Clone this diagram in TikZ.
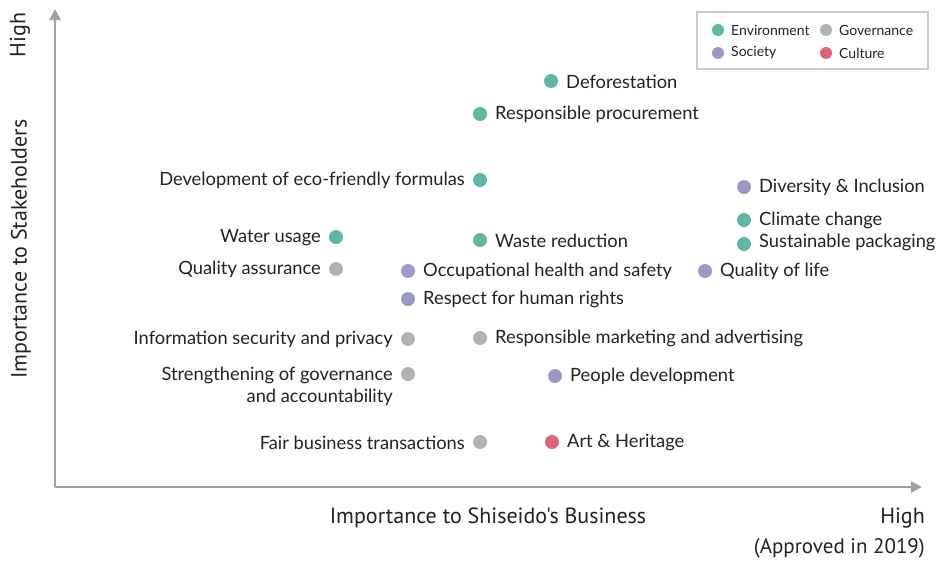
\documentclass[tikz,border=0pt]{standalone}
\usepackage{fontspec}
\setmainfont{Lato}
\newfontfamily\axisfont{PT Sans}
\usetikzlibrary{arrows.meta}
\definecolor{envc}{HTML}{5FB8A5}
\definecolor{socc}{HTML}{9A9AC8}
\definecolor{govc}{HTML}{B3B3B3}
\definecolor{culc}{HTML}{E06478}
\definecolor{axisc}{HTML}{A0A0A0}
\definecolor{txtc}{HTML}{222222}
\begin{document}
\begin{tikzpicture}[x=1pt,y=-1pt,
  dotE/.style={circle,fill=envc,inner sep=0,minimum size=14},
  dotS/.style={circle,fill=socc,inner sep=0,minimum size=14},
  dotG/.style={circle,fill=govc,inner sep=0,minimum size=14},
  dotC/.style={circle,fill=culc,inner sep=0,minimum size=14},
  lblR/.style={anchor=west,inner sep=0,yshift=-0.5pt,text=txtc,font=\fontsize{18.3}{22}\selectfont},
  lblL/.style={anchor=east,inner sep=0,yshift=-0.5pt,text=txtc,font=\fontsize{18.3}{22}\selectfont},
  legdot/.style={circle,inner sep=0,minimum size=12},
  legtxt/.style={anchor=west,inner sep=0,text=txtc,font=\fontsize{14}{16}\selectfont},
  axlbl/.style={inner sep=0,text=txtc,font=\axisfont\fontsize{22}{26}\selectfont},
  axisline/.style={draw=axisc,line width=2.6,-{Triangle[length=11,width=11]}}]
\useasboundingbox (0,0) rectangle (941,560);
% axes
\coordinate (O) at (55,487);
\coordinate (Ytop) at (55,9);
\coordinate (Xend) at (922,487);
\draw[axisline] (O) -- (Ytop);
\draw[axisline] (O) -- (Xend);
% axis labels
\node[axlbl,rotate=90] (yhigh) at (20,35) {High};
\node[axlbl,rotate=90] (ytitle) at (21,249) {Importance to Stakeholders};
\node[axlbl] (xtitle) at (488,518) {Importance to Shiseido's Business};
\node[axlbl,anchor=east] (xhigh) at (925,518) {High};
\node[axlbl,anchor=east,font=\axisfont\fontsize{21}{25}\selectfont] (xappr) at (925,548) {(Approved in 2019)};
% legend
\node[draw=govc!70,line width=1.5,minimum width=231,minimum height=57,inner sep=0] (leg) at (812.5,40.5) {};
\node[legdot,fill=envc] (l1) at (718,30) {};
\node[legtxt] (l1t) at (731,30) {Environment};
\node[legdot,fill=govc] (l2) at (826,30) {};
\node[legtxt] (l2t) at (839,30) {Governance};
\node[legdot,fill=socc] (l3) at (718,53) {};
\node[legtxt] (l3t) at (731,53) {Society};
\node[legdot,fill=culc] (l4) at (826,53) {};
\node[legtxt] (l4t) at (839,53) {Culture};
% points
\node[dotE] (d1) at (551,81) {};
\node[lblR] at (566,81) {Deforestation};
\node[dotE] (d2) at (480,114) {};
\node[lblR] at (495,114) {Responsible procurement};
\node[dotE] (d3) at (480,180) {};
\node[lblL] at (465,180) {Development of eco-friendly formulas};
\node[dotS] (d4) at (744,187) {};
\node[lblR] at (759,187) {Diversity \& Inclusion};
\node[dotE] (d5) at (744,220) {};
\node[lblR] at (759,220) {Climate change};
\node[dotE] (d6) at (744,244) {};
\node[lblR] at (759,242) {Sustainable packaging};
\node[dotE] (d7) at (336,237) {};
\node[lblL] at (321,237) {Water usage};
\node[dotE] (d8) at (480,240) {};
\node[lblR] at (495,240) {Waste reduction};
\node[dotG] (d9) at (336,269) {};
\node[lblL] at (321,269) {Quality assurance};
\node[dotS] (d10) at (408,271) {};
\node[lblR] at (423,271) {Occupational health and safety};
\node[dotS] (d11) at (705,271) {};
\node[lblR] at (720,271) {Quality of life};
\node[dotS] (d12) at (408,299) {};
\node[lblR] at (423,299) {Respect for human rights};
\node[dotG] (d13) at (408,339) {};
\node[lblL] at (393,339) {Information security and privacy};
\node[dotG] (d14) at (480,338) {};
\node[lblR] at (495,338) {Responsible marketing and advertising};
\node[dotG] (d15) at (408,374) {};
\node[lblL] at (393,375) {Strengthening of governance};
\node[lblL] at (393,397) {and accountability};
\node[dotS] (d16) at (555,376) {};
\node[lblR] at (570,376) {People development};
\node[dotG] (d17) at (480,442) {};
\node[lblL] at (465,442) {Fair business transactions};
\node[dotC] (d18) at (552,442) {};
\node[lblR] at (567,442) {Art \& Heritage};
\end{tikzpicture}
\end{document}
